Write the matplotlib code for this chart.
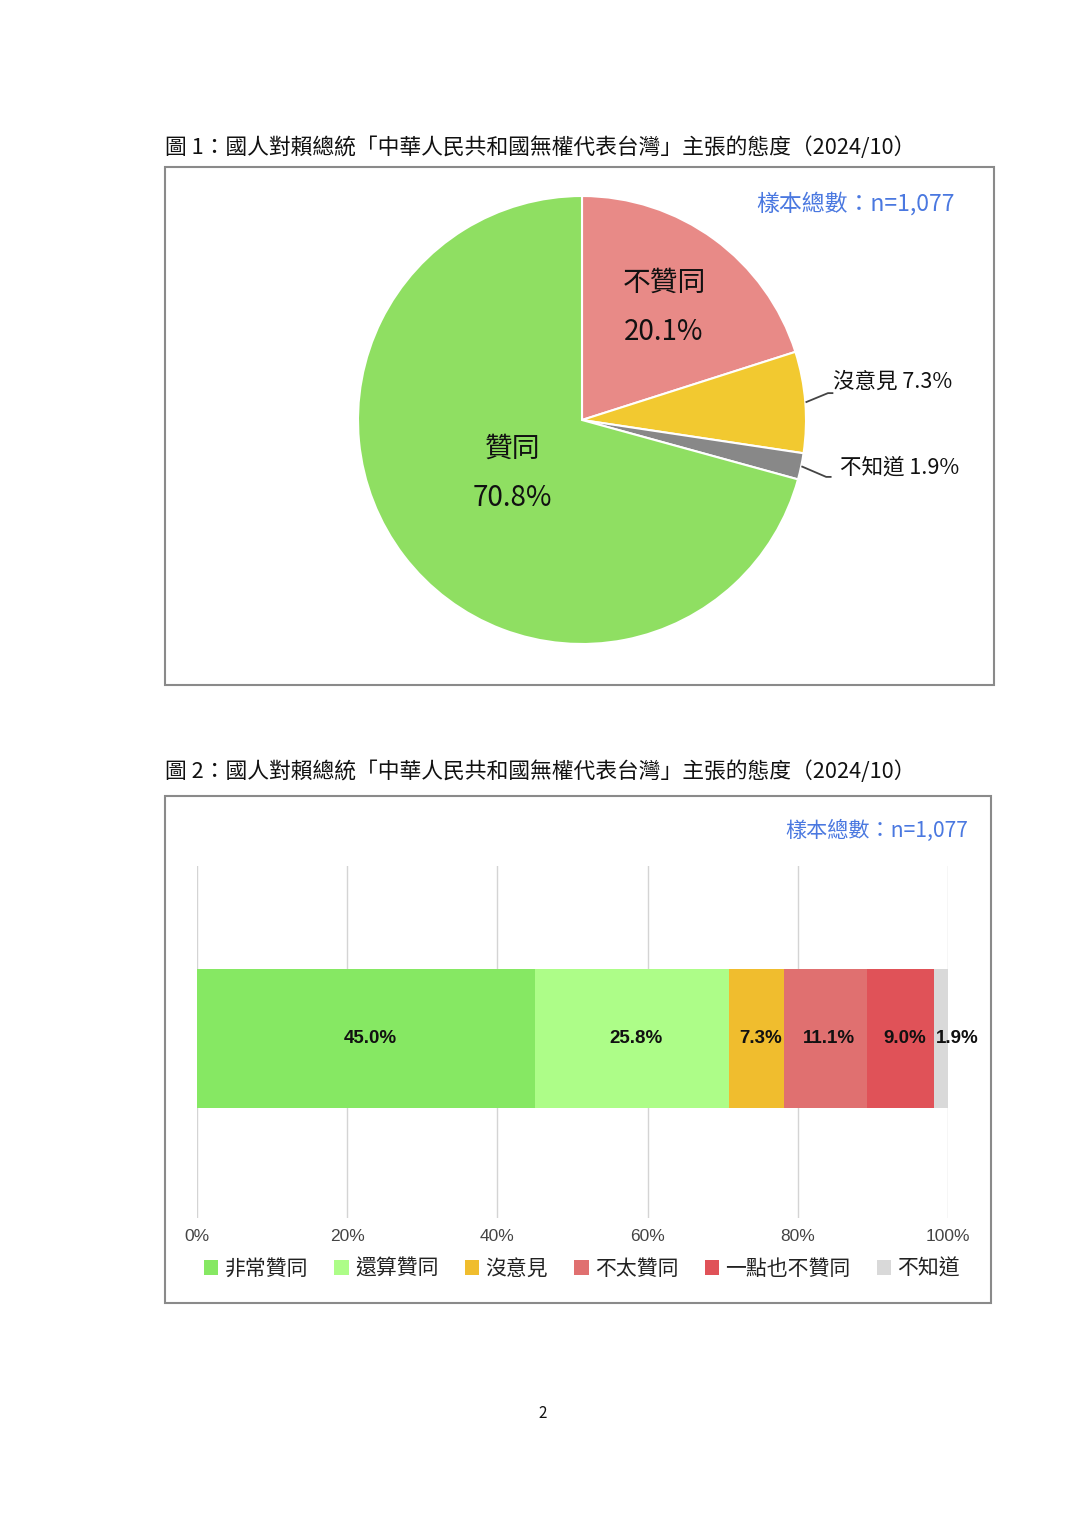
import numpy as np
import matplotlib
matplotlib.use("Agg")
import matplotlib.pyplot as plt
from matplotlib.patches import Rectangle

plt.rcParams['font.family'] = ['Noto Sans CJK TC', 'DejaVu Sans']

# 圖1 資料
pie_labels = ["不贊同", "沒意見", "不知道", "贊同"]
pie_values = [20.1, 7.3, 1.9, 70.8]
pie_colors = ["#e88a87", "#f2c930", "#888888", "#8fdf62"]

# 圖2 資料
bar_labels = ["非常贊同", "還算贊同", "沒意見", "不太贊同", "一點也不贊同", "不知道"]
bar_values = [45.0, 25.8, 7.3, 11.1, 9.0, 1.9]
bar_colors = ["#86e863", "#adfd88", "#f0bd2e", "#e07070", "#e05258", "#d9d9d9"]
x_ticks = [0, 20, 40, 60, 80, 100]

title = "圖 1：國人對賴總統「中華人民共和國無權代表台灣」主張的態度（2024/10）"
title2 = "圖 2：國人對賴總統「中華人民共和國無權代表台灣」主張的態度（2024/10）"
n_text = "樣本總數：n=1,077"

W, H = 1086, 1536
fig = plt.figure(figsize=(W / 100, H / 100), dpi=100)


def fx(px):
    return px / W


def fy(py):
    return 1 - py / H


# 外框
for (x0, y0, x1, y1) in [(165, 167, 994, 685), (165, 796, 991, 1303)]:
    fig.patches.append(Rectangle((fx(x0), fy(y1)), fx(x1 - x0), (y1 - y0) / H,
                                 transform=fig.transFigure, fill=False,
                                 edgecolor="#8a8a8a", linewidth=1.5))

fig.text(fx(165), fy(148), title, fontsize=15.7, va="center", ha="left", color="#111")
fig.text(fx(165), fy(772), title2, fontsize=15.7, va="center", ha="left", color="#111")

# ---- 圖1 圓餅圖 ----
cx, cy, r = 582, 420, 224
ax1 = fig.add_axes([fx(cx - r), fy(cy + r), 2 * r / W, 2 * r / H])
wedges, _ = ax1.pie(pie_values, colors=pie_colors, startangle=90, counterclock=False,
                    radius=1, wedgeprops=dict(edgecolor="white", linewidth=1.5))
ax1.set_xlim(-1, 1)
ax1.set_ylim(-1, 1)
ax1.set_aspect("equal")
ax1.axis("off")


def mid_angle(w):
    return np.deg2rad((w.theta1 + w.theta2) / 2)


inner = {0: 0.62, 3: 0.39}
for i, rr in inner.items():
    a = mid_angle(wedges[i])
    ax1.text(rr * np.cos(a), rr * np.sin(a) + 0.11, pie_labels[i], fontsize=20,
             ha="center", va="center", color="#111")
    ax1.text(rr * np.cos(a), rr * np.sin(a) - 0.11, f"{pie_values[i]}%", fontsize=20,
             ha="center", va="center", color="#111")

# 外側標籤：(導線終點, 文字位置)
outer = {1: ((1.098, 0.12), (1.12, 0.17)), 2: ((1.09, -0.254), (1.15, -0.214))}
for i, ((lx, ly), (tx, ty)) in outer.items():
    a = mid_angle(wedges[i])
    x0, y0 = 1.005 * np.cos(a), 1.005 * np.sin(a)
    ax1.plot([x0, lx, lx + 0.02], [y0, ly, ly], color="#444", lw=1.3, clip_on=False)
    ax1.text(tx, ty, f"{pie_labels[i]} {pie_values[i]}%", fontsize=15.5,
             ha="left", va="center", color="#111")

fig.text(fx(955), fy(204), n_text, fontsize=16.5, ha="right", va="center", color="#4a78e0")

# ---- 圖2 堆疊長條圖 ----
ax2 = fig.add_axes([fx(197), fy(1218), fx(948 - 197), (1218 - 866) / H])
left = 0
for lab, v, c in zip(bar_labels, bar_values, bar_colors):
    ax2.barh(0.51, v, left=left, height=0.395, color=c, label=lab, zorder=2)
    off = 11 if lab == "不知道" else 3
    ax2.annotate(f"{v:.1f}%", xy=(left + v / 2, 0.51), xytext=(off, 0),
                 textcoords="offset points", ha="center", va="center",
                 fontsize=13.5, fontweight="bold", family="Liberation Sans", color="#111")
    left += v
ax2.set_xlim(0, 100)
ax2.set_ylim(0, 1)
ax2.set_xticks(x_ticks)
ax2.set_xticklabels([f"{t}%" for t in x_ticks], family="Liberation Sans", fontsize=12.5, color="#444")
ax2.set_yticks([])
ax2.grid(axis="x", color="#d4d4d4", linewidth=1, zorder=0)
ax2.tick_params(axis="x", length=0, pad=8)
for s in ax2.spines.values():
    s.set_visible(False)

fig.legend(loc="center", bbox_to_anchor=(fx(582), fy(1269)), ncol=6, frameon=False,
           fontsize=15, handlelength=0.7, handleheight=0.7, handletextpad=0.3,
           columnspacing=1.25, labelcolor="#222")

fig.text(fx(968), fy(831), n_text, fontsize=15.2, ha="right", va="center", color="#4a78e0")

fig.text(fx(543), fy(1413), "2", fontsize=11, ha="center", va="center", color="#111")

fig.savefig("out.png", dpi=100, facecolor="white")
